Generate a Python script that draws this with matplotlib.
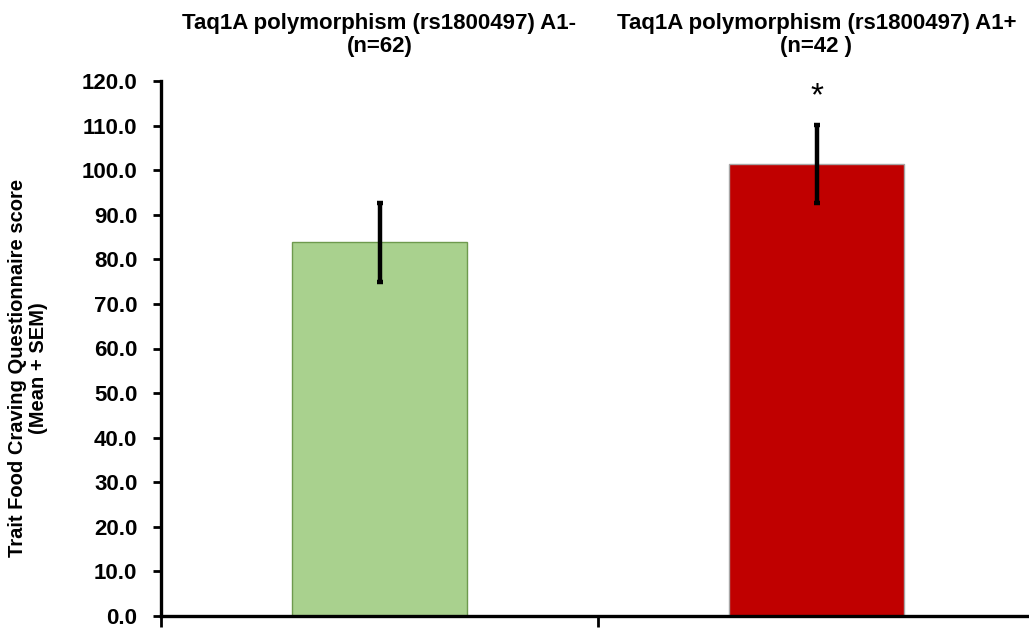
import matplotlib
matplotlib.use("Agg")
import matplotlib.pyplot as plt
from matplotlib.ticker import FormatStrFormatter

plt.rcParams['font.family'] = ['Liberation Sans', 'DejaVu Sans']
plt.rcParams['font.weight'] = 'bold'

categories = ["Taq1A polymorphism (rs1800497) A1-\n(n=62)",
              "Taq1A polymorphism (rs1800497) A1+\n(n=42 )"]
means = [83.8, 101.4]
sems = [8.9, 8.8]
significance = ["", "*"]
bar_colors = ["#A9D18E", "#C00000"]
edge_colors = ["#6E9A4E", "#A6A6A6"]
yticks = [0, 10, 20, 30, 40, 50, 60, 70, 80, 90, 100, 110, 120]

W, H = 1029, 630
fig = plt.figure(figsize=(W / 100, H / 100), dpi=100)
ax = fig.add_axes([161 / W, (H - 616) / H, (1035 - 161) / W, (616 - 81) / H])

x = list(range(len(categories)))
ax.bar(x, means, width=0.40, color=bar_colors, edgecolor=edge_colors, linewidth=1.0, zorder=2)
ax.errorbar(x, means, yerr=sems, fmt='none', ecolor='black', elinewidth=3.2,
            capsize=2.2, capthick=3.2, zorder=3)
for xi, m, s, sig in zip(x, means, sems, significance):
    if sig:
        ax.text(xi, m + s + 6.3, sig, ha='center', va='center', fontsize=24, fontweight='normal')

ax.set_xlim(-0.5, len(categories) - 0.5)
ax.set_ylim(0, 120)
ax.set_yticks(yticks)
ax.yaxis.set_major_formatter(FormatStrFormatter('%.1f'))

# boundary ticks on the bottom, category labels on top
ax.set_xticks([-0.5, 0.5])
ax.set_xticklabels([])
ax.set_xticks(x, categories, minor=True)
ax.tick_params(axis='x', which='major', direction='out', length=8, width=2, bottom=True, top=False)
ax.tick_params(axis='x', which='minor', length=0, bottom=False, top=False,
               labelbottom=False, labeltop=True, labelsize=16, pad=17)
for lab in ax.get_xticklabels(minor=True):
    lab.set_fontweight('bold')
    lab.set_linespacing(1.15)
ax.tick_params(axis='y', direction='out', length=6, width=2, labelsize=16, pad=11)

for sp in ['top', 'right']:
    ax.spines[sp].set_visible(False)
for sp in ['left', 'bottom']:
    ax.spines[sp].set_linewidth(2.4)
ax.spines['left'].set_bounds(0, 120)

fig.text(28 / W, 1 - 368 / H, "Trait Food Craving Questionnaire score\n(Mean + SEM)",
         rotation=90, ha='center', va='center', fontsize=14.5, fontweight='bold', linespacing=1.15)

fig.savefig("out.png", dpi=100)
